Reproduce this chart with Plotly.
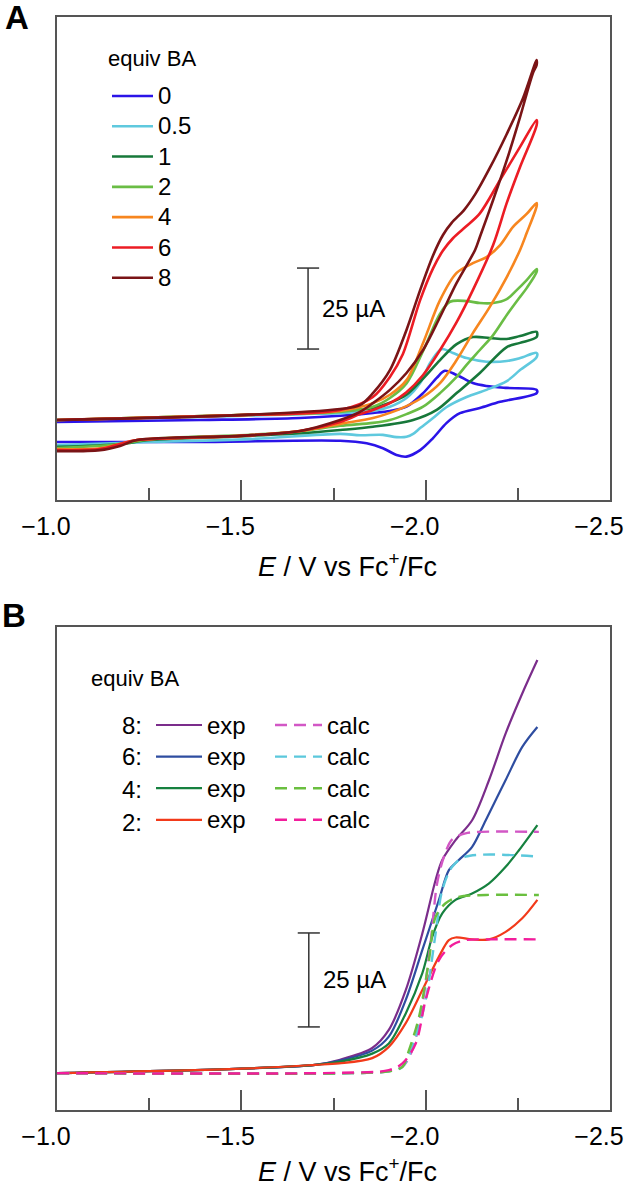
import plotly.graph_objects as go

# ---------------- DATA ----------------
# Panel A: cyclic voltammograms (E in V vs Fc+/Fc, I in uA, arbitrary offset), forward then return scan
EQUIV_A = ["0", "0.5", "1", "2", "4", "6", "8"]

E_A0 = [-1.000, -1.388, -1.659, -1.768, -1.857, -1.903, -1.948, -1.993, -2.030, -2.052, -2.084, -2.128, -2.165, -2.220, -2.301,
        -2.301, -2.202, -2.147, -2.093, -2.057, -2.020, -1.985, -1.948, -1.921, -1.884, -1.840, -1.768, -1.388, -1.000]
I_A0 = [24.1, 24.7, 25.3, 26.0, 26.9, 27.5, 28.8, 33.0, 37.7, 39.9, 38.6, 36.1, 35.2, 34.6, 34.0,
        33.0, 30.3, 28.4, 26.8, 23.8, 19.1, 15.4, 13.4, 13.9, 16.0, 17.5, 18.3, 17.9, 17.9]

E_A05 = [-1.000, -1.388, -1.659, -1.768, -1.857, -1.903, -1.948, -1.985, -2.012, -2.039, -2.047, -2.074, -2.111, -2.165, -2.220, -2.256, -2.301,
         -2.301, -2.256, -2.220, -2.165, -2.111, -2.057, -2.020, -1.985, -1.966, -1.948, -1.921, -1.884, -1.822, -1.768, -1.523, -1.252, -1.000]
I_A05 = [24.7, 25.6, 26.5, 26.8, 27.5, 28.8, 31.5, 36.1, 42.3, 46.3, 46.6, 45.4, 43.8, 42.7, 42.9, 43.8, 45.4,
         44.1, 40.1, 36.7, 34.0, 31.8, 28.7, 25.3, 22.2, 20.4, 19.5, 19.4, 20.1, 20.0, 20.4, 18.8, 17.9, 17.0]

E_A1 = [-1.000, -1.496, -1.768, -1.857, -1.903, -1.948, -1.993, -2.039, -2.084, -2.128, -2.174, -2.220, -2.256, -2.301,
        -2.301, -2.256, -2.220, -2.147, -2.084, -2.030, -1.966, -1.857, -1.768, -1.659, -1.523, -1.252, -1.171, -1.000]
I_A1 = [24.7, 26.2, 27.5, 28.4, 30.0, 32.5, 37.5, 43.2, 48.1, 50.3, 50.0, 49.7, 50.6, 51.9,
        50.3, 48.5, 47.2, 39.2, 33.0, 27.8, 24.7, 22.6, 21.6, 20.6, 19.8, 18.5, 17.3, 16.4]

E_A2 = [-1.000, -1.496, -1.768, -1.857, -1.903, -1.948, -1.993, -2.039, -2.066, -2.111, -2.147, -2.183, -2.220, -2.247, -2.274, -2.301,
        -2.301, -2.274, -2.256, -2.220, -2.183, -2.147, -2.111, -2.084, -2.039, -1.993, -1.948, -1.903, -1.857, -1.768, -1.659, -1.523, -1.252, -1.171, -1.000]
I_A2 = [24.7, 26.2, 27.2, 28.8, 31.5, 36.0, 46.0, 57.5, 61.2, 61.4, 60.8, 60.8, 62.0, 64.8, 67.9, 71.3,
        70.4, 65.4, 62.7, 57.1, 50.9, 46.3, 41.7, 38.0, 33.0, 28.8, 26.5, 24.7, 23.8, 22.9, 21.2, 20.1, 18.8, 17.3, 16.0]

E_A4 = [-1.000, -1.496, -1.768, -1.857, -1.903, -1.948, -1.993, -2.039, -2.084, -2.128, -2.165, -2.202, -2.237, -2.274, -2.301,
        -2.301, -2.274, -2.256, -2.220, -2.174, -2.128, -2.084, -2.039, -1.993, -1.948, -1.903, -1.857, -1.768, -1.659, -1.496, -1.217, -1.171, -1.117, -1.000]
I_A4 = [24.7, 26.2, 27.5, 29.9, 32.5, 37.0, 48.5, 61.7, 70.1, 73.1, 75.0, 78.7, 84.3, 88.3, 91.7,
        90.7, 82.4, 77.2, 68.8, 59.6, 51.5, 43.2, 36.1, 31.8, 29.0, 26.9, 25.3, 23.5, 21.3, 19.8, 18.5, 17.3, 16.0, 15.7]

E_A6 = [-1.000, -1.496, -1.768, -1.857, -1.903, -1.938, -1.985, -2.020, -2.047, -2.074, -2.110, -2.147, -2.202, -2.256, -2.301,
        -2.301, -2.256, -2.220, -2.183, -2.128, -2.084, -2.039, -1.993, -1.948, -1.903, -1.857, -1.822, -1.768, -1.659, -1.496, -1.217, -1.171, -1.117, -1.000]
I_A6 = [24.7, 26.2, 27.8, 31.8, 38.0, 45.0, 61.7, 71.5, 77.0, 80.8, 84.5, 88.5, 98.8, 109.0, 117.3,
        115.7, 102.8, 91.7, 78.7, 64.8, 54.9, 46.3, 38.6, 33.3, 29.9, 27.8, 26.5, 24.1, 21.3, 19.8, 18.5, 17.3, 15.7, 15.4]

E_A8 = [-1.000, -1.496, -1.768, -1.822, -1.857, -1.903, -1.948, -1.985, -2.020, -2.047, -2.071, -2.104, -2.135, -2.174, -2.220, -2.264, -2.301,
        -2.301, -2.291, -2.256, -2.220, -2.183, -2.147, -2.134, -2.084, -2.039, -1.993, -1.948, -1.903, -1.857, -1.822, -1.768, -1.659, -1.496, -1.217, -1.171, -1.117, -1.000]
I_A8 = [24.7, 26.2, 28.1, 29.3, 33.0, 40.1, 52.5, 64.8, 75.5, 81.8, 85.6, 89.5, 94.5, 102.5, 113.0, 124.0, 135.8,
        134.3, 131.8, 118.2, 104.9, 92.6, 81.2, 77.2, 67.0, 56.5, 46.3, 39.2, 34.0, 29.9, 27.2, 24.7, 21.3, 19.8, 18.5, 16.7, 15.4, 15.1]

# Panel B: linear sweeps, experimental (exp) and simulated (calc)
EQUIV_B = ["8", "6", "4", "2"]

E_B8 = [-1.000, -1.500, -1.700, -1.765, -1.855, -1.900, -1.946, -1.991, -2.027, -2.045, -2.081, -2.126, -2.172, -2.217, -2.262, -2.303]
I_B8 = [9.8, 11.0, 12.0, 13.3, 16.5, 21.3, 31.9, 47.0, 61.2, 66.5, 71.8, 77.1, 87.8, 100.2, 110.8, 119.7]
E_B6 = [-1.000, -1.500, -1.700, -1.765, -1.855, -1.900, -1.946, -1.991, -2.036, -2.063, -2.090, -2.126, -2.163, -2.217, -2.262, -2.303]
I_B6 = [9.8, 11.0, 12.0, 13.1, 15.8, 19.5, 29.3, 42.6, 55.9, 63.8, 66.5, 70.0, 77.1, 87.8, 96.6, 101.9]
E_B4 = [-1.000, -1.500, -1.700, -1.765, -1.855, -1.900, -1.946, -1.991, -2.018, -2.045, -2.081, -2.126, -2.172, -2.217, -2.253, -2.303]
I_B4 = [9.8, 11.0, 12.0, 12.8, 15.0, 17.7, 25.7, 36.4, 46.1, 52.3, 55.9, 57.6, 60.3, 64.7, 69.1, 75.8]
E_B2 = [-1.000, -1.500, -1.700, -1.765, -1.855, -1.900, -1.946, -1.991, -2.036, -2.063, -2.081, -2.126, -2.172, -2.217, -2.262, -2.303]
I_B2 = [9.8, 11.0, 12.0, 12.4, 13.8, 16.8, 23.1, 31.9, 40.8, 45.2, 45.9, 45.4, 45.4, 47.4, 51.0, 55.9]

E_C8 = [-1.000, -1.800, -1.900, -1.937, -1.964, -1.991, -2.014, -2.031, -2.050, -2.072, -2.108, -2.150, -2.307]
I_C8 = [9.8, 9.8, 10.3, 11.5, 16.0, 28.0, 45.0, 60.3, 67.5, 72.0, 73.6, 74.0, 74.0]
E_C6 = [-1.000, -1.800, -1.900, -1.937, -1.973, -2.000, -2.027, -2.045, -2.072, -2.108, -2.307]
I_C6 = [9.8, 9.8, 10.3, 11.5, 19.5, 29.3, 47.0, 58.5, 64.7, 67.4, 67.4]
E_C4 = [-1.000, -1.800, -1.900, -1.937, -1.955, -1.982, -2.009, -2.027, -2.054, -2.090, -2.163, -2.307]
I_C4 = [9.8, 9.8, 10.3, 11.5, 16.0, 24.8, 39.9, 51.4, 55.0, 56.7, 57.2, 57.2]
E_C2 = [-1.000, -1.765, -1.900, -1.937, -1.973, -2.000, -2.036, -2.072, -2.108, -2.172, -2.307]
I_C2 = [9.8, 9.9, 10.6, 12.4, 17.7, 29.3, 39.9, 43.9, 45.2, 45.4, 45.4]

TICK_VALS = [-1.0, -1.5, -2.0, -2.5]
TICK_TEXT = ["\u22121.0", "\u22121.5", "\u22122.0", "\u22122.5"]
MINOR_TICKS = [-1.25, -1.75, -2.25]
SCALE_UA = 25

# ---------------- STYLE ----------------
COLORS_A = ["#2b14e8", "#5fc9de", "#17783a", "#6abd45", "#f7861f", "#ec1c24", "#7a1416"]
COLORS_EXP = ["#7b2d8b", "#2e4da0", "#16813f", "#f23a1a"]
COLORS_CALC = ["#d257c5", "#5bc8dc", "#6abf3f", "#f21d9c"]
FRAME = "#555555"
FONT = "Liberation Sans, Arial, Helvetica, sans-serif"

W, H = 625, 1186
ML, MR, MT, MB = 57, 15, 17, 76
PW = W - ML - MR
PH = H - MT - MB


def px_x(px):
    """page pixel x -> paper fraction"""
    return (px - ML) / PW


def px_y(py):
    """page pixel y -> paper fraction"""
    return (H - MB - py) / PH


def big(txt, size):
    return "<span style='font-size:%dpx'>%s</span>" % (size, txt)


fig = go.Figure()

series_A = [(E_A0, I_A0), (E_A05, I_A05), (E_A1, I_A1), (E_A2, I_A2), (E_A4, I_A4), (E_A6, I_A6), (E_A8, I_A8)]
for (e, i), name, col in zip(series_A, EQUIV_A, COLORS_A):
    fig.add_trace(go.Scatter(x=e, y=i, mode="lines", name=big(name, 24), legend="legend",
                             line=dict(color=col, width=2.6, shape="spline", smoothing=0.9),
                             xaxis="x", yaxis="y"))

series_exp = [(E_B8, I_B8), (E_B6, I_B6), (E_B4, I_B4), (E_B2, I_B2)]
series_calc = [(E_C8, I_C8), (E_C6, I_C6), (E_C4, I_C4), (E_C2, I_C2)]
for (e, i), col in zip(series_exp, COLORS_EXP):
    fig.add_trace(go.Scatter(x=e, y=i, mode="lines", name=big("exp", 24), legend="legend2",
                             line=dict(color=col, width=2.2, shape="spline", smoothing=0.9),
                             xaxis="x2", yaxis="y2"))
for (e, i), col in zip(series_calc, COLORS_CALC):
    fig.add_trace(go.Scatter(x=e, y=i, mode="lines", name=big("calc", 24), legend="legend3",
                             line=dict(color=col, width=2.4, dash="12px,7px", shape="spline", smoothing=0.9),
                             xaxis="x2", yaxis="y2"))

xax = dict(range=[-1.0, -2.5], showline=True, linecolor=FRAME, linewidth=1.5, mirror=True,
           ticks="inside", ticklen=20, tickwidth=1.5, tickcolor=FRAME,
           tickmode="array", tickvals=TICK_VALS, ticktext=TICK_TEXT,
           tickfont=dict(size=25, color="black", family=FONT),
           ticklabelstandoff=3, ticklabelshift=11, ticklabeloverflow="allow",
           minor=dict(tickmode="array", tickvals=MINOR_TICKS, ticks="inside", ticklen=12,
                      tickwidth=1.5, tickcolor=FRAME, showgrid=False),
           showgrid=False, zeroline=False, automargin=False, fixedrange=True)
yax = dict(showline=True, linecolor=FRAME, linewidth=1.5, mirror=True, ticks="",
           showticklabels=False, showgrid=False, zeroline=False, automargin=False, fixedrange=True)

dom_A = [px_y(500), 1.0]
dom_B = [0.0, px_y(627)]

legend_common = dict(xanchor="left", yanchor="top", bgcolor="rgba(0,0,0,0)", borderwidth=0,
                     tracegroupgap=0, traceorder="normal")

fig.update_layout(
    width=W, height=H, margin=dict(l=ML, r=MR, t=MT, b=MB),
    paper_bgcolor="white", plot_bgcolor="white",
    font=dict(family=FONT, color="black"),
    xaxis=dict(xax, anchor="y"),
    yaxis=dict(yax, domain=dom_A, range=[0, 149.1], anchor="x"),
    xaxis2=dict(xax, anchor="y2"),
    yaxis2=dict(yax, domain=dom_B, range=[0, 128.5], anchor="x2"),
    legend=dict(legend_common, x=px_x(107), y=px_y(75.8), itemwidth=41, font=dict(size=21, family=FONT)),
    legend2=dict(legend_common, x=px_x(151), y=px_y(704.2), itemwidth=46, font=dict(size=22, family=FONT)),
    legend3=dict(legend_common, x=px_x(270), y=px_y(704.2), itemwidth=47, font=dict(size=22, family=FONT)),
    showlegend=True,
)

# scale bars (25 uA) in data coordinates
bars = [("x", "y", -1.681, 46.6), ("x2", "y2", -1.683, 22.1)]
shapes = []
for xr, yr, xb, y0 in bars:
    line = dict(color="#333333", width=1.5)
    shapes.append(dict(type="line", xref=xr, yref=yr, x0=xb, x1=xb, y0=y0, y1=y0 + SCALE_UA, line=line))
    for yy in (y0, y0 + SCALE_UA):
        shapes.append(dict(type="line", xref=xr, yref=yr, x0=xb + 0.03, x1=xb - 0.03, y0=yy, y1=yy, line=line))
fig.update_layout(shapes=shapes)

ann = []
# scale bar labels
ann.append(dict(xref="x", yref="y", x=-1.713, y=46.6 + SCALE_UA / 2, text="25 \u00b5A", showarrow=False,
                xanchor="left", yanchor="middle", font=dict(size=24)))
ann.append(dict(xref="x2", yref="y2", x=-1.717, y=22.1 + SCALE_UA / 2, text="25 \u00b5A", showarrow=False,
                xanchor="left", yanchor="middle", font=dict(size=24)))
# axis titles
title = "<i>E</i> / V vs Fc<sup>+</sup>/Fc"
ann.append(dict(xref="paper", yref="paper", x=px_x(347), y=px_y(565), text=title, showarrow=False,
                xanchor="center", yanchor="middle", font=dict(size=27)))
ann.append(dict(xref="paper", yref="paper", x=px_x(347), y=px_y(1170), text=title, showarrow=False,
                xanchor="center", yanchor="middle", font=dict(size=27)))
# panel letters
ann.append(dict(xref="paper", yref="paper", x=px_x(3), y=px_y(18), text="<b>A</b>", showarrow=False,
                xanchor="left", yanchor="middle", font=dict(size=33)))
ann.append(dict(xref="paper", yref="paper", x=px_x(0), y=px_y(615), text="<b>B</b>", showarrow=False,
                xanchor="left", yanchor="middle", font=dict(size=33)))
# legend titles
ann.append(dict(xref="paper", yref="paper", x=px_x(106), y=px_y(58), text="equiv BA", showarrow=False,
                xanchor="left", yanchor="middle", font=dict(size=22)))
ann.append(dict(xref="paper", yref="paper", x=px_x(89), y=px_y(679), text="equiv BA", showarrow=False,
                xanchor="left", yanchor="middle", font=dict(size=22)))
# row labels for panel B legend
row_y = [725, 757, 789, 822]
for lab, ry in zip(EQUIV_B, row_y):
    ann.append(dict(xref="paper", yref="paper", x=px_x(120), y=px_y(ry), text=lab + ":", showarrow=False,
                    xanchor="left", yanchor="middle", font=dict(size=24)))
fig.update_layout(annotations=ann)

# remove the browser's default 8px body margin so the figure fills the window exactly
fig.write_html("out.html", config={"displayModeBar": False},
               post_script="document.body.style.margin='0';document.body.style.overflow='hidden';")
